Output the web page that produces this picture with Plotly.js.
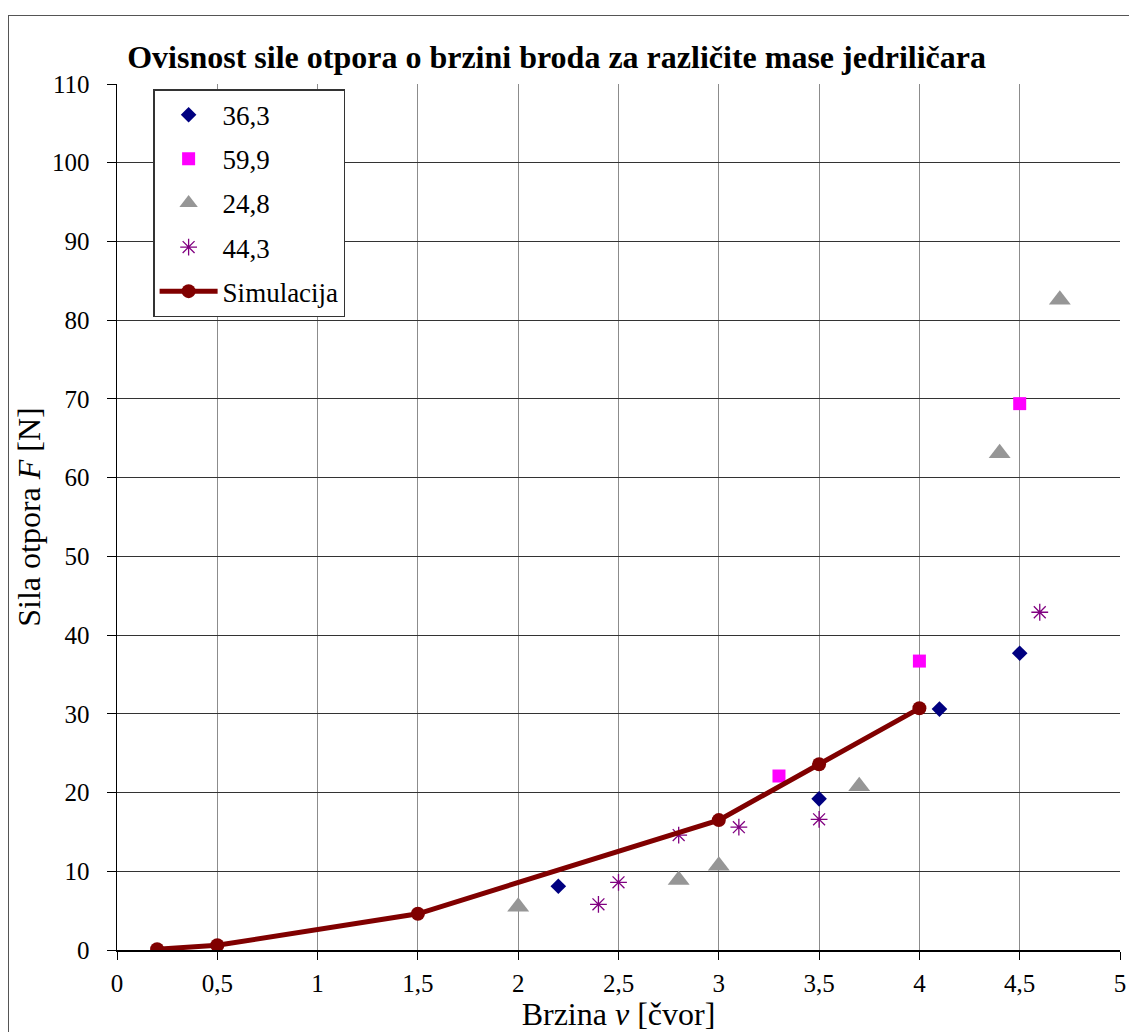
<!DOCTYPE html>
<html><head><meta charset="utf-8">
<script src="https://cdn.plot.ly/plotly-3.0.1.min.js"></script>
<style>
html,body{margin:0;padding:0;background:#fff;}
#frame{position:absolute;left:8px;top:15px;width:1200px;height:1100px;border:1.5px solid #555;box-sizing:border-box;}
#chart{position:absolute;left:0;top:0;width:1129px;height:1032px;}
</style></head>
<body>
<div id="frame"></div>
<div id="chart"></div>
<script>
const x363 = [2.2, 3.5, 4.1, 4.5];
const y363 = [8.1, 19.2, 30.6, 37.7];
const x599 = [3.3, 4.0, 4.5];
const y599 = [22.1, 36.7, 69.4];
const x248 = [2.0, 2.8, 3.0, 3.7, 4.4, 4.7];
const y248 = [5.5, 8.9, 10.7, 20.8, 63.1, 82.6];
const x443 = [2.4, 2.5, 2.8, 3.1, 3.5, 4.6];
const y443 = [5.8, 8.6, 14.6, 15.6, 16.6, 42.9];
const xSim = [0.2, 0.5, 1.5, 3.0, 3.5, 4.0];
const ySim = [0.1, 0.6, 4.6, 16.5, 23.6, 30.7];
const names = ["36,3", "59,9", "24,8", "44,3", "Simulacija"];
const xTicks = [0, 0.5, 1, 1.5, 2, 2.5, 3, 3.5, 4, 4.5, 5];
const yTicks = [0, 10, 20, 30, 40, 50, 60, 70, 80, 90, 100, 110];

const serif = "Liberation Serif";
const traces = [
  {x:x363, y:y363, name:names[0], mode:"markers", type:"scatter", legendgroup:"a",
   marker:{symbol:"diamond", size:12, color:"#000080"}},
  {x:x599, y:y599, name:names[1], mode:"markers", type:"scatter", legendgroup:"b",
   marker:{symbol:"square", size:13, color:"#FF00FF"}},
  {x:x248, y:y248, name:names[2], mode:"markers", type:"scatter", legendgroup:"c",
   marker:{symbol:"triangle-up", size:19, color:"#969696"}},
  {x:x443, y:y443, name:names[3], mode:"markers", type:"scatter", legendgroup:"d",
   marker:{symbol:"asterisk-open", size:14, color:"#800080", line:{color:"#800080", width:1.3}}},
  {x:xSim, y:ySim, name:names[4], mode:"lines+markers", type:"scatter", legendgroup:"e",
   line:{color:"#800000", width:5}, marker:{symbol:"circle", size:14, color:"#800000"}}
];
const layout = {
  width:1129, height:1032,
  paper_bgcolor:"rgba(0,0,0,0)", plot_bgcolor:"#fff",
  margin:{l:117, r:9, t:84, b:82},
  separators:",.",
  font:{family:serif, color:"#000", size:25},
  title:{text:"<b>Ovisnost sile otpora o brzini broda za različite mase jedriličara</b>",
    font:{family:serif, size:32, color:"#000"}, x:0.493, xanchor:"center", y:0.945, yanchor:"middle"},
  xaxis:{range:[0,5], tickvals:xTicks, ticks:"outside", ticklen:8, tickcolor:"#000",
    ticklabelstandoff:2,
    showgrid:true, gridcolor:"#8c8c8c", gridwidth:1, zeroline:false,
    showline:true, linecolor:"#000", linewidth:1.5,
    tickfont:{family:serif, size:25, color:"#000"},
    title:{text:"Brzina <i>v</i> [čvor]", font:{family:serif, size:32, color:"#000"}, standoff:14}},
  yaxis:{range:[0,110], tickvals:yTicks, ticks:"outside", ticklen:9, tickcolor:"#000",
    ticklabelstandoff:12,
    showgrid:true, gridcolor:"#333", gridwidth:1, zeroline:false,
    showline:true, linecolor:"#000", linewidth:1.5,
    tickfont:{family:serif, size:25, color:"#000"},
    title:{text:"Sila otpora <i>F</i> [N]", font:{family:serif, size:32, color:"#000"}, standoff:2}},
  showlegend:true,
  legend:{x:0.036, y:0.994, xanchor:"left", yanchor:"top", bgcolor:"#fff",
    bordercolor:"#333", borderwidth:1.5, traceorder:"grouped", tracegroupgap:6,
    font:{family:serif, size:27, color:"#000"}, itemwidth:58}
};
Plotly.newPlot("chart", traces, layout, {displayModeBar:false, staticPlot:true});
</script>
</body></html>
